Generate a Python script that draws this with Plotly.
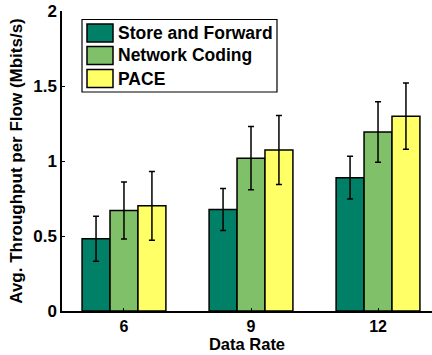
import plotly.graph_objects as go

# Grouped throughput results per data rate
rates = ["6", "9", "12"]
series = ["Store and Forward", "Network Coding", "PACE"]
store_forward = [0.482, 0.677, 0.889]
network_coding = [0.670, 1.019, 1.193]
pace = [0.701, 1.074, 1.299]
sf_err = [0.150, 0.140, 0.142]
nc_err = [0.190, 0.211, 0.202]
pace_err = [0.229, 0.230, 0.221]
y_ticks = [0, 0.5, 1, 1.5, 2]
y_tick_text = ["0", "0.5", "1", "1.5", "2"]

colors = ["#008066", "#80C068", "#FFFF66"]
values = [store_forward, network_coding, pace]
errors = [sf_err, nc_err, pace_err]

FONT = "Liberation Sans, Arial, Helvetica, sans-serif"
W, H = 432, 355
ML, MR, MT, MB = 62, 0, 11, 44
PW, PH = W - ML - MR, H - MT - MB

positions = list(range(1, len(rates) + 1))

fig = go.Figure()
for name, vals, errs, col in zip(series, values, errors, colors):
    fig.add_trace(go.Bar(
        x=positions, y=vals, name=name,
        marker=dict(color=col, line=dict(color="black", width=1.5)),
        error_y=dict(type="data", array=errs, visible=True,
                     color="black", thickness=1.5, width=3),
        showlegend=False,
    ))

# Legend drawn as boxes and labels in paper coordinates
def px_x(px):
    return (px - ML) / PW

def px_y(py):
    return (H - MB - py) / PH

shapes = [dict(type="rect", xref="paper", yref="paper",
               x0=px_x(82), x1=px_x(277), y0=px_y(92), y1=px_y(19.5),
               line=dict(color="black", width=1.2), fillcolor="white", layer="above")]
annotations = []
row_centers = [33, 55.5, 78.5]
for name, col, yc in zip(series, colors, row_centers):
    shapes.append(dict(type="rect", xref="paper", yref="paper",
                       x0=px_x(87), x1=px_x(113), y0=px_y(yc + 9), y1=px_y(yc - 9),
                       line=dict(color="black", width=1.5), fillcolor=col, layer="above"))
    annotations.append(dict(text="<b>%s</b>" % name, xref="paper", yref="paper",
                            x=px_x(116), y=px_y(yc), xanchor="left", yanchor="middle",
                            showarrow=False,
                            font=dict(family=FONT, size=17.5, color="black")))

fig.update_layout(
    width=W, height=H,
    margin=dict(l=ML, r=MR, t=MT, b=MB, autoexpand=False),
    paper_bgcolor="white", plot_bgcolor="white",
    barmode="group", bargap=0.34, bargroupgap=0,
    font=dict(family=FONT, size=17, color="black", weight="bold"),
    shapes=shapes, annotations=annotations,
    xaxis=dict(
        range=[0.512, 3.425], tickmode="array", tickvals=positions, ticktext=rates,
        showline=True, linecolor="black", linewidth=1.5, mirror=False,
        ticks="inside", ticklen=3, tickcolor="black", showgrid=False, zeroline=False,
        tickfont=dict(size=16, weight="bold"),
        title=dict(text="Data Rate", standoff=0, font=dict(size=16.5, weight="bold")),
        automargin=False,
    ),
    yaxis=dict(
        range=[0, 2], tickmode="array", tickvals=y_ticks, ticktext=y_tick_text,
        showline=True, linecolor="black", linewidth=1.5, mirror=False,
        ticks="inside", ticklen=3, tickcolor="black", showgrid=False, zeroline=False,
        tickfont=dict(size=17, weight="bold"),
        title=dict(text="Avg. Throughput per Flow (Mbits/s)", standoff=6,
                   font=dict(size=17, weight="bold")),
        automargin=False,
    ),
)

fig.write_html("out.html")
